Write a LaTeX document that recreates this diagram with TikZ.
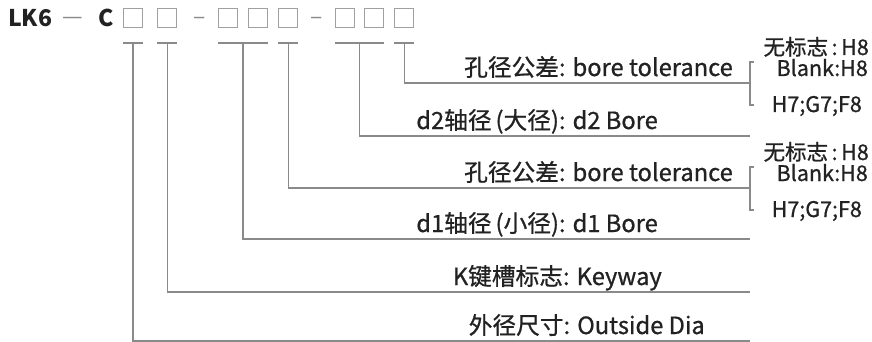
\documentclass[tikz,border=0pt]{standalone}
\usepackage{fontspec}
\setmainfont{Noto Sans CJK SC}
\newfontfamily\labelfont{Noto Sans CJK SC}[FakeBold=0.8]
\usepackage{xcolor}
\usepackage{tikz}
\usetikzlibrary{calc,positioning}
\definecolor{ink}{HTML}{222222}
\definecolor{rule}{HTML}{8A8A8A}
\definecolor{cellgray}{HTML}{A0A0A0}
\tikzset{
  cell/.style={draw=cellgray, line width=1.1pt, minimum size=19pt, inner sep=0pt},
  conn/.style={draw=rule, line width=1.2pt},
  code/.style={text=ink, font=\fontsize{23}{23}\selectfont\bfseries, inner sep=0pt, anchor=base west},
  sep/.style={text=rule, font=\fontsize{23}{23}\selectfont, inner sep=0pt, anchor=base west},
  lbl/.style={text=ink, font=\labelfont\fontsize{23.7}{24}\selectfont, inner sep=0pt, anchor=base east},
  opt/.style={text=ink, font=\labelfont\fontsize{21.5}{22}\selectfont, inner sep=0pt, anchor=base east}
}

\begin{document}
\begin{tikzpicture}[x=1pt,y=-1pt]
  \useasboundingbox (0,0) rectangle (872,342);

  % type code
  \node[code] (lk) at (8,27) {LK6};
  \node[sep] (d0) at (62,24.5) {—};
  \node[code] (c) at (98,27) {C};
  \node[cell] (b1) at (133,18) {};
  \node[cell, right=14pt of b1] (b2) {};
  \node[sep] (d1) at (193,24.5) {–};
  \node[cell] (b3) at (228,18) {};
  \node[cell, right=10pt of b3] (b4) {};
  \node[cell, right=10pt of b4] (b5) {};
  \node[sep] (d2) at (310,24.5) {–};
  \node[cell] (b6) at (345,18) {};
  \node[cell, right=9pt of b6] (b7) {};
  \node[cell, right=10pt of b7] (b8) {};

  \coordinate (u1) at ([yshift=-15pt]b1.south);
  \coordinate (u2) at ([yshift=-15pt]b2.south);
  \coordinate (u34) at ($(b3.south)!.5!(b4.south)+(0,15)$);
  \coordinate (u5) at ([yshift=-15pt]b5.south);
  \coordinate (u67) at ($(b6.south)!.5!(b7.south)+(0,15)$);
  \coordinate (u8) at ([yshift=-15pt]b8.south);

  \draw[conn] (b1.south west |- u1) -- (b1.south east |- u1);
  \draw[conn] (b2.south west |- u2) -- (b2.south east |- u2);
  \draw[conn] (b3.south west |- u34) -- (b4.south east |- u34);
  \draw[conn] (b5.south west |- u5) -- (b5.south east |- u5);
  \draw[conn] (b6.south west |- u67) -- (b7.south east |- u67);
  \draw[conn] (b8.south west |- u8) -- (b8.south east |- u8);

  % row ends
  \coordinate (e1) at (750,83);
  \coordinate (e2) at (750,136);
  \coordinate (e3) at (750,188);
  \coordinate (e4) at (750,239);
  \coordinate (e5) at (750,292);
  \coordinate (e6) at (750,341);

  \draw[conn] (u8) |- (e1);
  \draw[conn] (u67) |- (e2);
  \draw[conn] (u5) |- (e3);
  \draw[conn] (u34) |- (e4);
  \draw[conn] (u2) |- (e5);
  \draw[conn] (u1) |- (e6);

  % brackets
  \draw[conn] ([shift={(4,-21)}]e1) -- ++(-4,0) -- ++(0,43) -- ++(4,0);
  \draw[conn] ([shift={(4,-21)}]e3) -- ++(-4,0) -- ++(0,43) -- ++(4,0);

  \node[lbl] (l1) at (733,76) {孔径公差: bore tolerance};
  \node[lbl] (l2) at (658,129) {d2轴径\,(大径): d2 Bore};
  \node[lbl] (l3) at (733,181) {孔径公差: bore tolerance};
  \node[lbl] (l4) at (658,232) {d1轴径\,(小径): d1 Bore};
  \node[lbl] (l5) at (662,285) {K键槽标志: Keyway};
  \node[lbl] (l6) at (705,334) {外径尺寸: Outside Dia};

  \node[opt] (o1) at (869,55) {无标志\,:\,H8};
  \node[opt] (o2) at (868,76) {Blank:H8};
  \node[opt] (o3) at (862,112) {H7;G7;F8};
  \node[opt] (o4) at (869,160) {无标志\,:\,H8};
  \node[opt] (o5) at (868,181) {Blank:H8};
  \node[opt] (o6) at (862,217) {H7;G7;F8};
\end{tikzpicture}
\end{document}
